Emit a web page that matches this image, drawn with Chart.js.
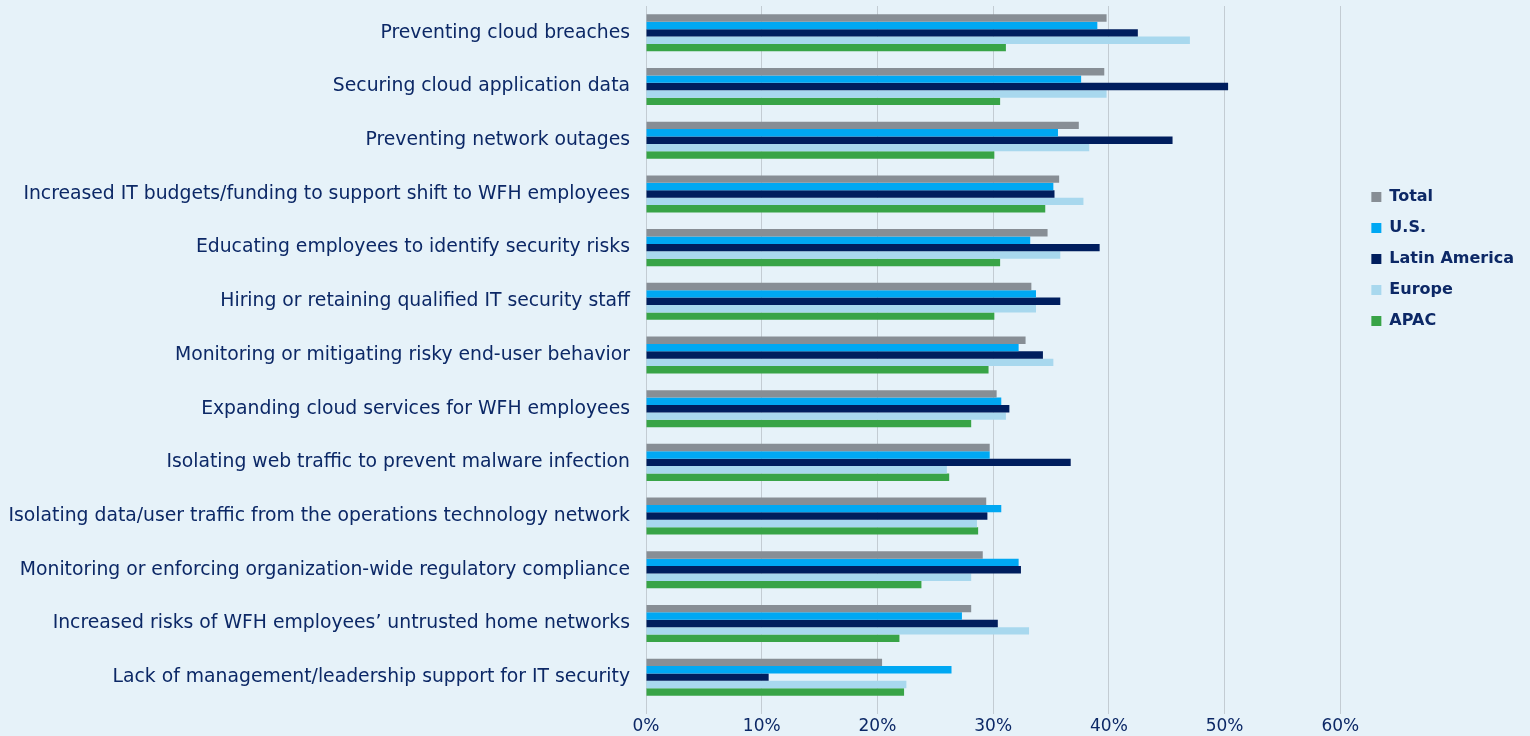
<!DOCTYPE html>
<html>
<head>
<meta charset="utf-8">
<script src="https://cdn.jsdelivr.net/npm/chart.js@4"></script>
<style>
  body { margin: 0; background: #e6f2f9; }
  #wrap { width: 1530px; height: 736px; position: relative; }
</style>
</head>
<body>
<div id="wrap"><canvas id="chart"></canvas></div>
<script>
const categories = [
    'Preventing cloud breaches',
    'Securing cloud application data',
    'Preventing network outages',
    'Increased IT budgets/funding to support shift to WFH employees',
    'Educating employees to identify security risks',
    'Hiring or retaining qualified IT security staff',
    'Monitoring or mitigating risky end-user behavior',
    'Expanding cloud services for WFH employees',
    'Isolating web traffic to prevent malware infection',
    'Isolating data/user traffic from the operations technology network',
    'Monitoring or enforcing organization-wide regulatory compliance',
    'Increased risks of WFH employees\u2019 untrusted home networks',
    'Lack of management/leadership support for IT security'
];

const seriesNames = ['Total', 'U.S.', 'Latin America', 'Europe', 'APAC'];

const totalValues  = [39.8, 39.6, 37.4, 35.7, 34.7, 33.3, 32.8, 30.3, 29.7, 29.4, 29.1, 28.1, 20.4];
const usValues     = [39.0, 37.6, 35.6, 35.2, 33.2, 33.7, 32.2, 30.7, 29.7, 30.7, 32.2, 27.3, 26.4];
const latamValues  = [42.5, 50.3, 45.5, 35.3, 39.2, 35.8, 34.3, 31.4, 36.7, 29.5, 32.4, 30.4, 10.6];
const europeValues = [47.0, 39.8, 38.3, 37.8, 35.8, 33.7, 35.2, 31.1, 26.0, 28.6, 28.1, 33.1, 22.5];
const apacValues   = [31.1, 30.6, 30.1, 34.5, 30.6, 30.1, 29.6, 28.1, 26.2, 28.7, 23.8, 21.9, 22.3];

const seriesColors = ['#878e95', '#00a8f3', '#001e5e', '#a8d8ee', '#38a447'];

const textColor = '#0c2866';
const gridColor = '#c3ccd3';
const fontFamily = 'DejaVu Sans';

// nudge the legend block to where it sits in the original
const legendShift = {
    id: 'legendShift',
    afterUpdate(chart) {
        const lg = chart.legend;
        if (!lg) return;
        const dx = 16, dy = -112;
        lg.left += dx; lg.right += dx;
        lg.top += dy; lg.bottom += dy;
        lg.adjustHitBoxes();
    }
};

const allValues = [totalValues, usValues, latamValues, europeValues, apacValues];

new Chart(document.getElementById('chart'), {
    type: 'bar',
    data: {
        labels: categories,
        datasets: seriesNames.map((name, i) => ({
            label: name,
            data: allValues[i],
            backgroundColor: seriesColors[i],
            borderWidth: 0,
            categoryPercentage: 0.69,
            barPercentage: 1.0
        }))
    },
    options: {
        indexAxis: 'y',
        responsive: true,
        maintainAspectRatio: false,
        animation: false,
        layout: { padding: { top: 6, right: 22, left: 0, bottom: 0 } },
        scales: {
            x: {
                min: 0,
                max: 60,
                ticks: {
                    stepSize: 10,
                    padding: 2,
                    color: textColor,
                    font: { family: fontFamily, size: 17 },
                    callback: v => v + '%'
                },
                grid: { color: gridColor, lineWidth: 1, tickLength: 10, drawTicks: true },
                border: { display: false },
                afterFit: scale => {
                    scale.height = 32;
                    scale.paddingLeft = 0;
                    scale.paddingRight = 0;
                }
            },
            y: {
                ticks: {
                    padding: 16,
                    color: textColor,
                    font: { family: fontFamily, size: 18.8 }
                },
                grid: { display: false, drawTicks: false },
                border: { display: true, color: gridColor, width: 1 },
                afterFit: scale => {
                    scale.width = 646;
                    scale.paddingTop = 0;
                    scale.paddingBottom = 0;
                }
            }
        },
        plugins: {
            legend: {
                position: 'right',
                align: 'center',
                labels: {
                    boxWidth: 10,
                    boxHeight: 10,
                    padding: 15,
                    color: textColor,
                    font: { family: fontFamily, size: 16, weight: 'bold' }
                }
            },
            tooltip: { enabled: false }
        }
    },
    plugins: [legendShift]
});
</script>
</body>
</html>
